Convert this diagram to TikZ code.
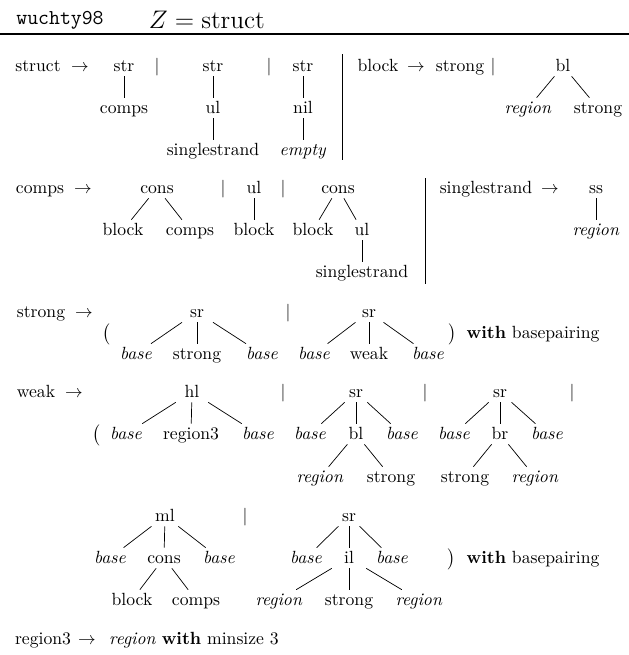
\documentclass[tikz,border=0pt]{standalone}
\begin{document}
\begin{tikzpicture}[x=0.5666pt, y=-0.5666pt]
\tikzset{
  lab/.style={inner sep=0pt, text height=8.7pt, text depth=2.6pt, minimum width=24pt, anchor=center},
  conn/.style={line width=0.4pt},
  colrule/.style={line width=0.45pt},
  headrule/.style={line width=1.4pt}
}
\useasboundingbox (0,0) rectangle (629,655);
% header
\node[inner sep=0pt] (hname) at (60,20) {\large\texttt{wuchty98}};
\node[inner sep=0pt] (hz) at (207,20) {\fontsize{13.6pt}{16pt}\selectfont $Z = \mathrm{struct}$};
\coordinate (hrl) at (0,34); \coordinate (hrr) at (629,34);
\draw[headrule] (hrl) -- (hrr);
% row 1
\node[lab] (r1lhs) at (38,66) {struct};
\node[lab] (r1arr) at (80,66) {$\rightarrow$};
\node[lab] (r1a) at (124,66) {str};
\node[lab] (r1a1) at (124,108) {comps};
\node[lab] (r1bar1) at (157,66) {$|$};
\node[lab] (r1b) at (213,66) {str};
\node[lab] (r1b1) at (213,108) {ul};
\node[lab] (r1b2) at (213,150) {singlestrand};
\node[lab] (r1bar2) at (269,66) {$|$};
\node[lab] (r1c) at (303,66) {str};
\node[lab] (r1c1) at (303,108) {nil};
\node[lab] (r1c2) at (303,150) {\textit{empty}};
\coordinate (v1t) at (342,54); \coordinate (v1b) at (342,160);
\node[lab] (blhs) at (378,66) {block};
\node[lab] (barr) at (416,66) {$\rightarrow$};
\node[lab] (bstrong) at (460,66) {strong};
\node[lab] (bbar) at (493,66) {$|$};
\node[lab] (bbl) at (563,66) {bl};
\node[lab] (bbl1) at (528,108) {\textit{region}};
\node[lab] (bbl2) at (598,108) {strong};
% row 2
\node[lab] (clhs) at (40,188) {comps};
\node[lab] (carr) at (83,188) {$\rightarrow$};
\node[lab] (ca) at (157,188) {cons};
\node[lab] (ca1) at (123,230) {block};
\node[lab] (ca2) at (190,230) {comps};
\node[lab] (cbar1) at (223,188) {$|$};
\node[lab] (cb) at (254,188) {ul};
\node[lab] (cb1) at (254,230) {block};
\node[lab] (cbar2) at (283,188) {$|$};
\node[lab] (cc) at (338,188) {cons};
\node[lab] (cc1) at (313,230) {block};
\node[lab] (cc2) at (362,230) {ul};
\node[lab] (cc3) at (362,272) {singlestrand};
\coordinate (v2t) at (425,178); \coordinate (v2b) at (425,284);
\node[lab] (sslhs) at (486,188) {singlestrand};
\node[lab] (ssarr) at (550,188) {$\rightarrow$};
\node[lab] (ss) at (596,188) {ss};
\node[lab] (ss1) at (596,230) {\textit{region}};
% row 3
\node[lab] (slhs) at (41,312) {strong};
\node[lab] (sarr) at (84,312) {$\rightarrow$};
\node[lab] (slp) at (107,333) {$\big($};
\node[lab] (sa) at (197,312) {sr};
\node[lab] (sa1) at (136,354) {\textit{base}};
\node[lab] (sa2) at (197,354) {strong};
\node[lab] (sa3) at (262,354) {\textit{base}};
\node[lab] (sbar) at (288,312) {$|$};
\node[lab] (sb) at (369,312) {sr};
\node[lab] (sb1) at (314,354) {\textit{base}};
\node[lab] (sb2) at (369,354) {weak};
\node[lab] (sb3) at (428,354) {\textit{base}};
\node[lab] (srp) at (453,333) {$\big)$};
\node[lab] (swith) at (533,333) {\textbf{with} basepairing};
% row 4
\node[lab] (wlhs) at (36,392) {weak};
\node[lab] (warr) at (74,392) {$\rightarrow$};
\node[lab] (wlp) at (97,434) {$\big($};
\node[lab] (wa) at (192,392) {hl};
\node[lab] (wa1) at (126,434) {\textit{base}};
\node[lab] (wa2) at (191,434) {region3};
\node[lab] (wa3) at (258,434) {\textit{base}};
\node[lab] (wbar1) at (283,392) {$|$};
\node[lab] (wb) at (356,392) {sr};
\node[lab] (wb1) at (310,434) {\textit{base}};
\node[lab] (wb2) at (356,434) {bl};
\node[lab] (wb3) at (402,434) {\textit{base}};
\node[lab] (wb21) at (320,477) {\textit{region}};
\node[lab] (wb22) at (391,477) {strong};
\node[lab] (wbar2) at (425,392) {$|$};
\node[lab] (wc) at (500,392) {sr};
\node[lab] (wc1) at (454,434) {\textit{base}};
\node[lab] (wc2) at (500,434) {br};
\node[lab] (wc3) at (547,434) {\textit{base}};
\node[lab] (wc21) at (465,477) {strong};
\node[lab] (wc22) at (535,477) {\textit{region}};
\node[lab] (wbar3) at (572,392) {$|$};
% row 5
\node[lab] (md) at (165,516) {ml};
\node[lab] (md1) at (110,558) {\textit{base}};
\node[lab] (md2) at (164,558) {cons};
\node[lab] (md3) at (219,558) {\textit{base}};
\node[lab] (md21) at (132,600) {block};
\node[lab] (md22) at (196,600) {comps};
\node[lab] (mbar) at (245,516) {$|$};
\node[lab] (me) at (349,516) {sr};
\node[lab] (me1) at (306,558) {\textit{base}};
\node[lab] (me2) at (349,558) {il};
\node[lab] (me3) at (392,558) {\textit{base}};
\node[lab] (me21) at (279,600) {\textit{region}};
\node[lab] (me22) at (349,600) {strong};
\node[lab] (me23) at (419,600) {\textit{region}};
\node[lab] (mrp) at (452,558) {$\big)$};
\node[lab] (mwith) at (533,558) {\textbf{with} basepairing};
% last line
\node[lab] (rlhs) at (43,639) {region3};
\node[lab] (rarr) at (87,639) {$\rightarrow$};
\node[lab] (rrhs) at (194,639) {\textit{region} \textbf{with} minsize 3};
% column rules
\draw[colrule] (v1t) -- (v1b);
\draw[colrule] (v2t) -- (v2b);
% tree edges
\draw[conn] (r1a) -- (r1a1);
\draw[conn] (r1b) -- (r1b1);
\draw[conn] (r1b1) -- (r1b2);
\draw[conn] (r1c) -- (r1c1);
\draw[conn] (r1c1) -- (r1c2);
\draw[conn] (bbl) -- (bbl1);
\draw[conn] (bbl) -- (bbl2);
\draw[conn] (ca) -- (ca1);
\draw[conn] (ca) -- (ca2);
\draw[conn] (cb) -- (cb1);
\draw[conn] (cc) -- (cc1);
\draw[conn] (cc) -- (cc2);
\draw[conn] (cc2) -- (cc3);
\draw[conn] (ss) -- (ss1);
\draw[conn] (sa) -- (sa1);
\draw[conn] (sa) -- (sa2);
\draw[conn] (sa) -- (sa3);
\draw[conn] (sb) -- (sb1);
\draw[conn] (sb) -- (sb2);
\draw[conn] (sb) -- (sb3);
\draw[conn] (wa) -- (wa1);
\draw[conn] (wa) -- (wa2);
\draw[conn] (wa) -- (wa3);
\draw[conn] (wb) -- (wb1);
\draw[conn] (wb) -- (wb2);
\draw[conn] (wb) -- (wb3);
\draw[conn] (wb2) -- (wb21);
\draw[conn] (wb2) -- (wb22);
\draw[conn] (wc) -- (wc1);
\draw[conn] (wc) -- (wc2);
\draw[conn] (wc) -- (wc3);
\draw[conn] (wc2) -- (wc21);
\draw[conn] (wc2) -- (wc22);
\draw[conn] (md) -- (md1);
\draw[conn] (md) -- (md2);
\draw[conn] (md) -- (md3);
\draw[conn] (md2) -- (md21);
\draw[conn] (md2) -- (md22);
\draw[conn] (me) -- (me1);
\draw[conn] (me) -- (me2);
\draw[conn] (me) -- (me3);
\draw[conn] (me2) -- (me21);
\draw[conn] (me2) -- (me22);
\draw[conn] (me2) -- (me23);
\end{tikzpicture}
\end{document}
